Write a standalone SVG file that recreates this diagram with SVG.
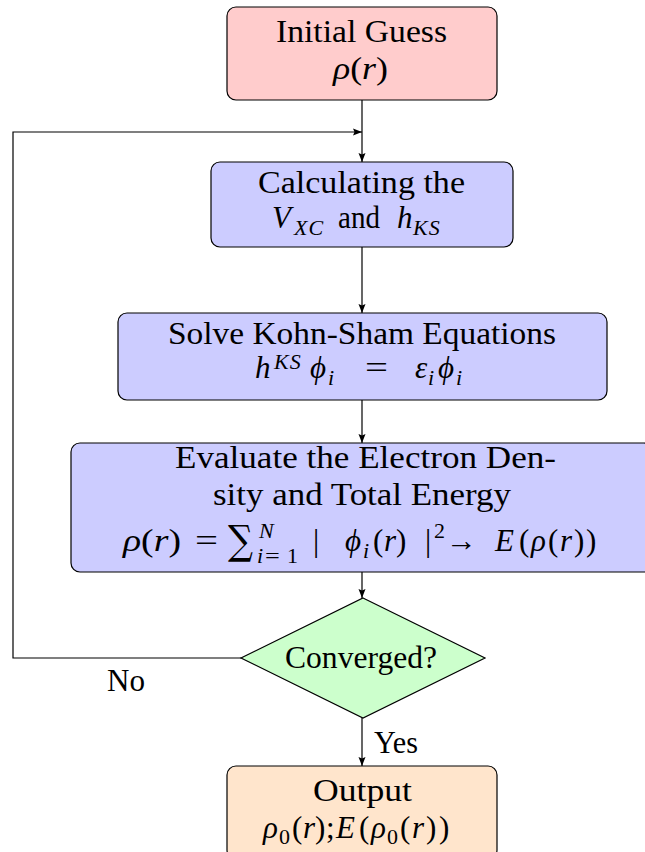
<svg xmlns="http://www.w3.org/2000/svg" width="645" height="852" viewBox="0 0 645 852">
<style>
.box{stroke:#000;stroke-width:1.2}
.t{font-family:"Liberation Serif","DejaVu Serif",serif;font-size:31px;fill:#000}
.i{font-style:italic}
.s{font-size:22px;letter-spacing:1px}
.c{fill:none;stroke:#000;stroke-width:1.2}
</style>
<defs>
<marker id="ah" markerUnits="userSpaceOnUse" markerWidth="10" markerHeight="8" refX="9" refY="4" orient="auto">
<path d="M0,0.5 L9,4 L0,7.5 L1.5,4 z" fill="#000"/>
</marker>
</defs>
<rect width="645" height="852" fill="#fff"/>

<g id="connectors">
<path class="c" d="M362,100 V162" marker-end="url(#ah)"/>
<path class="c" d="M362,247 V313" marker-end="url(#ah)"/>
<path class="c" d="M362,400 V443" marker-end="url(#ah)"/>
<path class="c" d="M362,572 V598" marker-end="url(#ah)"/>
<path class="c" d="M362,718 V766" marker-end="url(#ah)"/>
<path class="c" d="M241,658 H13 V132 H362" marker-end="url(#ah)"/>
<text class="t" x="107" y="691" textLength="38" lengthAdjust="spacingAndGlyphs">No</text>
<text class="t" x="374" y="753" textLength="44" lengthAdjust="spacingAndGlyphs">Yes</text>
</g>

<g id="n-initial">
<rect class="box" x="227" y="7" width="270" height="93" rx="9" fill="#ffcccc"/>
<text class="t" x="276" y="42" textLength="171" lengthAdjust="spacingAndGlyphs">Initial Guess</text>
<text class="t" x="333" y="79" textLength="55" lengthAdjust="spacingAndGlyphs"><tspan class="i">ρ</tspan>(<tspan class="i">r</tspan>)</text>
</g>

<g id="n-calc">
<rect class="box" x="211" y="162" width="302" height="85" rx="9" fill="#ccccff"/>
<text class="t" x="258" y="193" textLength="207" lengthAdjust="spacingAndGlyphs">Calculating the</text>
<text class="t i" x="272" y="228">V</text>
<text class="t i s" x="294" y="235">XC</text>
<text class="t" x="338" y="228" textLength="42" lengthAdjust="spacingAndGlyphs">and</text>
<text class="t i" x="397" y="228">h</text>
<text class="t i s" x="413" y="235">KS</text>
</g>

<g id="n-solve">
<rect class="box" x="118" y="313" width="489" height="87" rx="9" fill="#ccccff"/>
<text class="t" x="168" y="344" textLength="388" lengthAdjust="spacingAndGlyphs">Solve Kohn-Sham Equations</text>
<text class="t i" x="255" y="378">h</text>
<text class="t i s" x="274" y="369">KS</text>
<text class="t i" x="310" y="378">ϕ</text>
<text class="t i s" x="328" y="385">i</text>
<text class="t" x="365" y="378" textLength="23" lengthAdjust="spacingAndGlyphs">=</text>
<text class="t i" x="415" y="378">ε</text>
<text class="t i s" x="428" y="385">i</text>
<text class="t i" x="438" y="378">ϕ</text>
<text class="t i s" x="456" y="385">i</text>
</g>

<g id="n-eval">
<rect class="box" x="71" y="443" width="582" height="129" rx="9" fill="#ccccff"/>
<text class="t" x="175" y="468" textLength="381" lengthAdjust="spacingAndGlyphs">Evaluate the Electron Den-</text>
<text class="t" x="213" y="505" textLength="298" lengthAdjust="spacingAndGlyphs">sity and Total Energy</text>
<text class="t" x="123" y="551" textLength="58" lengthAdjust="spacingAndGlyphs"><tspan class="i">ρ</tspan>(<tspan class="i">r</tspan>)</text>
<text class="t" x="195" y="551" textLength="23" lengthAdjust="spacingAndGlyphs">=</text>
<text x="228" y="554" font-family="'DejaVu Serif',serif" font-size="40" textLength="25" lengthAdjust="spacingAndGlyphs">∑</text>
<text class="t i s" x="259" y="538">N</text>
<text class="t i s" x="257" y="563">i</text>
<text class="t s" x="265" y="563" textLength="16" lengthAdjust="spacingAndGlyphs">=</text>
<text class="t s" x="287" y="563">1</text>
<text class="t" x="313" y="551">|</text>
<text class="t i" x="345" y="551">ϕ</text>
<text class="t i s" x="363" y="558">i</text>
<text class="t" x="373" y="551">(</text>
<text class="t i" x="384" y="551">r</text>
<text class="t" x="396" y="551">)</text>
<text class="t" x="425" y="551">|</text>
<text class="t" x="434" y="538" style="font-size:22px">2</text>
<text class="t" x="446" y="551" textLength="31" lengthAdjust="spacingAndGlyphs">→</text>
<text class="t i" x="495" y="551">E</text>
<text class="t" x="519" y="551">(</text>
<text class="t i" x="531" y="551">ρ</text>
<text class="t" x="548" y="551">(</text>
<text class="t i" x="560" y="551">r</text>
<text class="t" x="574" y="551">)</text>
<text class="t" x="586" y="551">)</text>
</g>

<g id="n-conv">
<polygon class="box" points="363,598 485,658 363,718 241,658" fill="#ccffcc"/>
<text class="t" x="285" y="668" textLength="152" lengthAdjust="spacingAndGlyphs">Converged?</text>
</g>

<g id="n-output">
<rect class="box" x="227" y="766" width="270" height="93" rx="9" fill="#ffe5cc"/>
<text class="t" x="313" y="801" textLength="99" lengthAdjust="spacingAndGlyphs">Output</text>
<text class="t i" x="263" y="838">ρ</text>
<text class="t s" x="279" y="844">0</text>
<text class="t" x="292" y="838">(</text>
<text class="t i" x="303" y="838">r</text>
<text class="t" x="315" y="838">)</text>
<text class="t" x="326" y="838">;</text>
<text class="t i" x="336" y="838">E</text>
<text class="t" x="359" y="838">(</text>
<text class="t i" x="371" y="838">ρ</text>
<text class="t s" x="387" y="844">0</text>
<text class="t" x="400" y="838">(</text>
<text class="t i" x="412" y="838">r</text>
<text class="t" x="426" y="838">)</text>
<text class="t" x="439" y="838">)</text>
</g>
</svg>
